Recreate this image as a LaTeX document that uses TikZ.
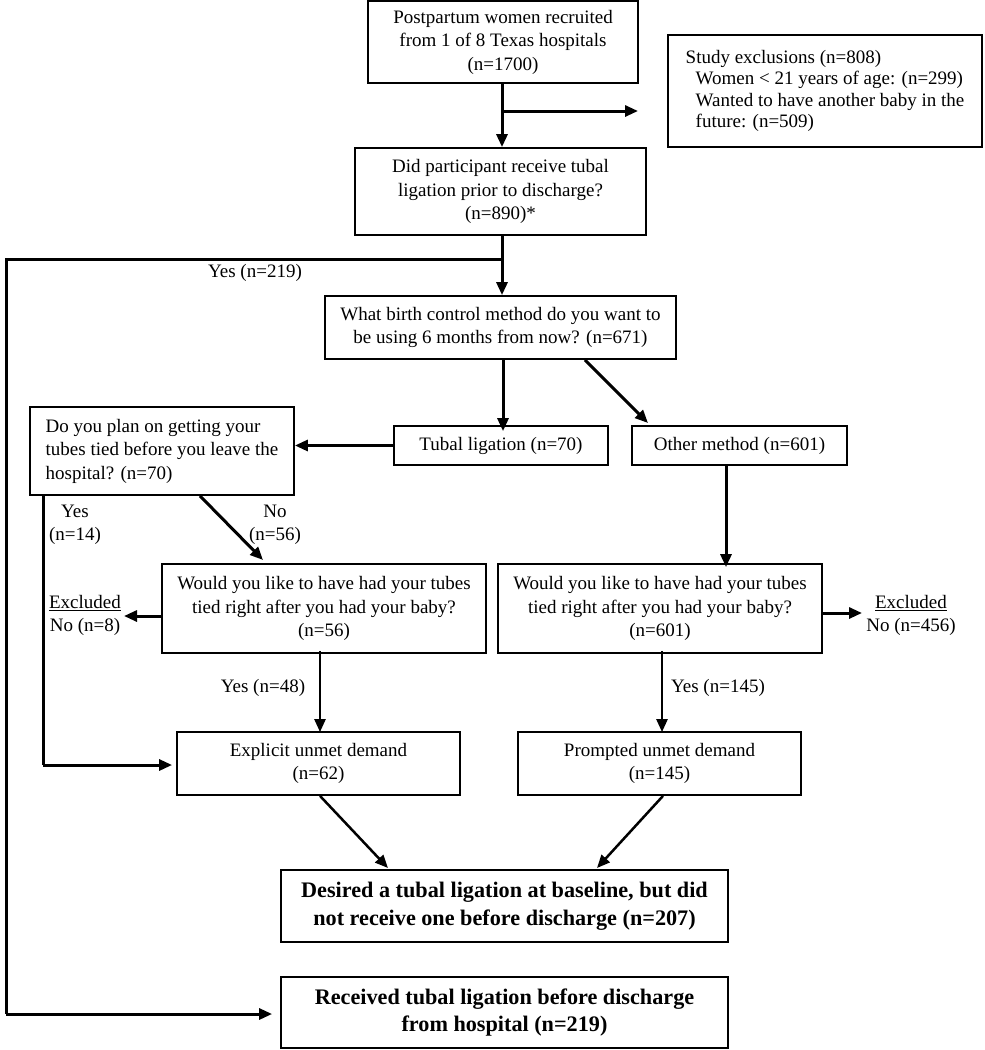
\documentclass[tikz,border=0pt]{standalone}
\usepackage{fontspec}
\setmainfont{Liberation Serif}
\usetikzlibrary{arrows.meta}
\newcommand{\nfs}{\fontsize{19}{23.5}\selectfont}
\newcommand{\bfs}{\fontsize{22.2}{27.5}\selectfont\bfseries}
\begin{document}
\begin{tikzpicture}[x=1pt,y=-1pt,
  box/.style={draw, line width=1.8pt, inner sep=0pt, align=center, font=\nfs},
  boldbox/.style={draw, line width=1.8pt, inner sep=0pt, align=center, font=\bfs},
  arr/.style={line width=3pt, -{Triangle[length=13pt,width=11pt]}},
  thinarr/.style={line width=2.5pt, -{Triangle[length=13pt,width=11pt]}},
  ln/.style={line width=3pt},
  lbl/.style={inner sep=0pt, align=center, font=\nfs}]
\useasboundingbox (0,0) rectangle (985,1050);

% boxes
\node[box, minimum width=270pt, minimum height=82pt] (top) at (503,42)
  {Postpartum women recruited\\from 1 of 8 Texas hospitals\\(n=1700)};
\node[box, align=left, minimum width=314pt, minimum height=112pt, font=\fontsize{19}{21.5}\selectfont] (excl) at (825,91)
  {Study exclusions (n=808)\\
   \hspace*{10pt}Women < 21 years of age: (n=299)\\
   \hspace*{10pt}Wanted to have another baby in the\\
   \hspace*{10pt}future: (n=509)};
\node[box, minimum width=291pt, minimum height=87pt] (q1) at (500.5,191.5)
  {Did participant receive tubal\\ligation prior to discharge?\\(n=890)*};
\node[box, minimum width=351pt, minimum height=63pt] (q2) at (500.5,327.5)
  {What birth control method do you want to\\be using 6 months from now? (n=671)};
\node[box, minimum width=214pt, minimum height=39pt] (tubal) at (501,445.5)
  {Tubal ligation (n=70)};
\node[box, minimum width=215pt, minimum height=39pt] (other) at (739.5,445.5)
  {Other method (n=601)};
\node[box, align=left, minimum width=264pt, minimum height=88pt] (plan) at (162,451)
  {Do you plan on getting your\\tubes tied before you leave the\\hospital? (n=70)};
\node[box, minimum width=324pt, minimum height=89pt] (w56) at (324,608.5)
  {Would you like to have had your tubes\\tied right after you had your baby?\\(n=56)};
\node[box, minimum width=324pt, minimum height=89pt] (w601) at (660,608.5)
  {Would you like to have had your tubes\\tied right after you had your baby?\\(n=601)};
\node[box, minimum width=283pt, minimum height=63pt] (expl) at (318.5,763.5)
  {Explicit unmet demand\\(n=62)};
\node[box, minimum width=283pt, minimum height=63pt] (prom) at (659.5,763.5)
  {Prompted unmet demand\\(n=145)};
\node[boldbox, minimum width=447pt, minimum height=72pt] (des) at (504.5,906)
  {Desired a tubal ligation at baseline, but did\\not receive one before discharge (n=207)};
\node[boldbox, minimum width=447pt, minimum height=71pt] (rec) at (504.5,1012.5)
  {Received tubal ligation before discharge\\from hospital (n=219)};

% labels
\node[lbl] (lyes219) at (255,273) {Yes (n=219)};
\node[lbl] (lyes14) at (75,525) {Yes\\(n=14)};
\node[lbl] (lno56) at (275,525) {No\\(n=56)};
\node[lbl] (lex8) at (85,615.5) {\underline{Excluded}\\No (n=8)};
\node[lbl] (lex456) at (911,615.5) {\underline{Excluded}\\No (n=456)};
\node[lbl] (lyes48) at (263,688) {Yes (n=48)};
\node[lbl] (lyes145) at (718,688) {Yes (n=145)};

% helper coordinates
\coordinate (b1) at (502,111);
\coordinate (exclend) at (638,111);
\coordinate (j1) at (502,259);
\coordinate (c1) at (6,259);
\coordinate (c2) at (6,1014);
\coordinate (p1) at (43,765);
\coordinate (ex8end) at (124,616);
\coordinate (ex456end) at (862,613);

% connectors
\draw[arr] (top.south -| b1) -- (q1.north -| b1);
\draw[arr] (b1) -- (exclend);
\draw[arr] (q1.south -| j1) -- (q2.north -| j1);
\draw[ln] (j1) -- (c1) -- (c2);
\draw[arr] (c2) -- ([xshift=-8pt]rec.west |- c2);
\draw[arr] (q2.south -| 503,0) -- ([yshift=-6pt]tubal.north -| 503,0);
\draw[arr] (q2.south -| 585,0) -- (648,423);
\draw[arr] (tubal.west) -- (plan.east |- tubal.west);
\draw[ln] (plan.south -| p1) -- (p1);
\draw[arr] (p1) -- ([xshift=-4pt]expl.west |- p1);
\draw[arr] (plan.south -| 200,0) -- (263,560);
\draw[arr] (w56.west |- ex8end) -- (ex8end);
\draw[arr] (other.south -| 726,0) -- ([yshift=-4pt]w601.north -| 726,0);
\draw[arr] (w601.east |- ex456end) -- (ex456end);
\draw[thinarr] ([yshift=3pt]w56.south -| 320,0) -- ([yshift=-1pt]expl.north -| 320,0);
\draw[thinarr] ([yshift=3pt]w601.south -| 662,0) -- ([yshift=-1pt]prom.north -| 662,0);
\draw[thinarr] (expl.south -| 320,0) -- (388,868);
\draw[thinarr] (prom.south -| 663,0) -- (597,868);
\end{tikzpicture}
\end{document}
